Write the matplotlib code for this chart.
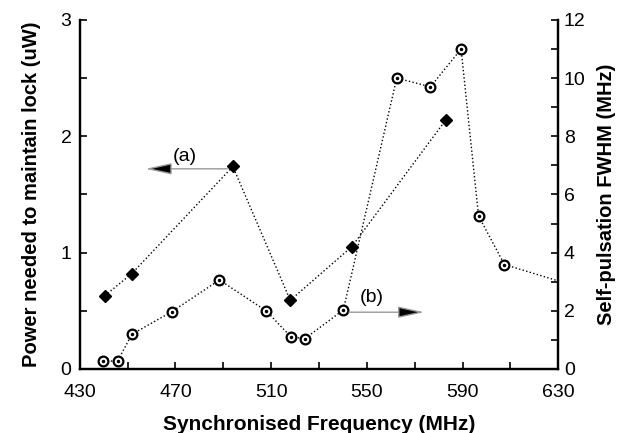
import numpy as np
import matplotlib.pyplot as plt
from matplotlib.ticker import MultipleLocator

plt.rcParams['font.family'] = ['Liberation Sans', 'DejaVu Sans']

# --- données ---
# (a) puissance nécessaire pour maintenir l'accrochage (axe de gauche)
freq_a = [440.5, 451.8, 494.0, 518.0, 543.7, 583.0]
power_a = [0.63, 0.82, 1.74, 0.59, 1.05, 2.14]

# (b) largeur FWHM de l'auto-pulsation (axe de droite)
freq_b = [439.9, 445.8, 451.8, 468.5, 488.4, 508.0, 518.3, 524.1, 540.2,
          562.5, 576.6, 589.4, 596.7, 607.5, 645.0]
fwhm_b = [0.27, 0.27, 1.19, 1.97, 3.06, 1.99, 1.10, 1.04, 2.03,
          10.0, 9.7, 11.0, 5.26, 3.59, 2.65]

xticks = [430, 470, 510, 550, 590, 630]

fig = plt.figure(figsize=(6.23, 4.33), dpi=100)
ax = fig.add_axes([0.128, 0.148, 0.768, 0.806])
ax2 = ax.twinx()

# courbe (a) : losanges pleins
ax.plot(freq_a, power_a, color='black', linestyle=':', linewidth=1.0,
        marker='D', markersize=6, markerfacecolor='black', zorder=3)

# courbe (b) : cercles avec point central
ax2.plot(freq_b, fwhm_b, color='black', linestyle=':', linewidth=1.0,
         marker='o', markersize=7, markerfacecolor='white',
         markeredgewidth=1.6, zorder=3)
ax2.plot(freq_b, fwhm_b, linestyle='none', marker='o', markersize=1.5,
         color='black', zorder=4)

# flèches (a) et (b)
style = '-|>,head_length=1.6,head_width=0.35'
ax.annotate('', xy=(457.5, 1.72), xytext=(494, 1.72),
            arrowprops=dict(arrowstyle=style, lw=1.0, shrinkB=0, shrinkA=4,
                            fc='black', ec='#999999'))
ax.text(474, 1.83, '(a)', fontsize=14, ha='center', va='center')
ax2.annotate('', xy=(574, 1.95), xytext=(540.2, 1.95),
             arrowprops=dict(arrowstyle=style, lw=1.0, shrinkB=0, shrinkA=4,
                             fc='black', ec='#999999'))
ax2.text(552, 2.45, '(b)', fontsize=14, ha='center', va='center')

# axes
ax.set_xlim(430, 630)
ax.set_ylim(0, 3)
ax2.set_ylim(0, 12)
ax.set_xticks(xticks)
ax.set_xticks(np.arange(450, 630, 40), minor=True)
ax.yaxis.set_major_locator(MultipleLocator(1))
ax.yaxis.set_minor_locator(MultipleLocator(0.5))
ax2.yaxis.set_major_locator(MultipleLocator(2))
ax2.yaxis.set_minor_locator(MultipleLocator(1))

for a in (ax, ax2):
    a.spines['top'].set_visible(False)
    for s in a.spines.values():
        s.set_linewidth(1.6)
    a.tick_params(which='both', direction='in', labelsize=14, width=1.2, length=5)
ax.tick_params(axis='x', pad=11)
ax.tick_params(axis='y', pad=6)
ax2.tick_params(axis='y', pad=4)

ax.set_xlabel('Synchronised Frequency (MHz)', fontsize=15, fontweight='bold', labelpad=10)
ax.set_ylabel('Power needed to maintain lock (uW)', fontsize=14.5, fontweight='bold', labelpad=14)
ax2.set_ylabel('Self-pulsation FWHM (MHz)', fontsize=14.5, fontweight='bold', labelpad=8)

plt.savefig('out.png', dpi=100)
